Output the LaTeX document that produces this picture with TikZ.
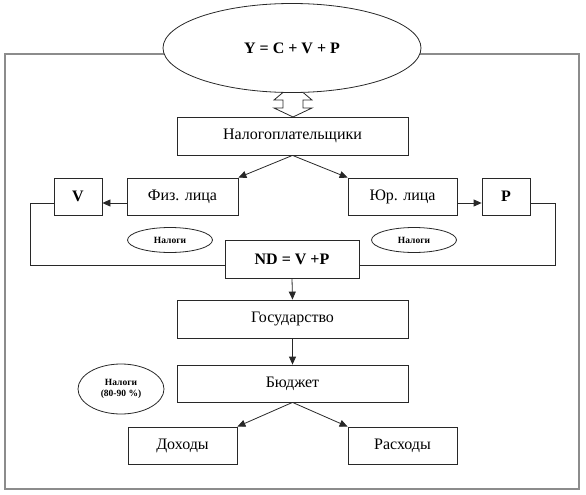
\documentclass[tikz,border=0pt]{standalone}
\usepackage{fontspec}
\setmainfont{Liberation Serif}
\usetikzlibrary{shapes.geometric,arrows.meta}
\definecolor{framegray}{RGB}{140,140,140}
\definecolor{linec}{RGB}{40,40,40}
\begin{document}
\begin{tikzpicture}[x=1pt,y=-1pt,
  box/.style={draw=linec,line width=0.8pt,rectangle,inner sep=0pt,fill=white,
    font=\fontsize{16}{19}\selectfont},
  bbox/.style={box,font=\fontsize{16}{19}\selectfont\bfseries},
  oval/.style={draw=linec,line width=0.8pt,ellipse,inner sep=0pt,fill=white},
  tiny/.style={font=\fontsize{9.5}{11}\selectfont\bfseries,align=center},
  arr/.style={draw=linec,line width=0.8pt,-{Triangle[length=8pt,width=7pt]}},
  conn/.style={draw=linec,line width=0.8pt}]
\useasboundingbox (0,0) rectangle (586,495);
% outer frame
\draw[framegray,line width=1.3pt] (5,54) rectangle (579,489);
% double hollow arrow
\draw[linec,line width=0.8pt,fill=white]
  (293,84) -- (312,100) -- (303,100) -- (303,108) -- (312,108) -- (293,117)
  -- (274,108) -- (283,108) -- (283,100) -- (274,100) -- cycle;
% top ellipse
\node[oval,minimum width=258pt,minimum height=89pt,
  font=\fontsize{16}{19}\selectfont\bfseries] (top) at (292,48) {Y = C + V + P};
% boxes
\node[box,minimum width=231pt,minimum height=38pt] (nal) at (292.5,136) {Налогоплательщики};
\node[box,minimum width=111pt,minimum height=37pt] (fiz) at (182.5,196.5) {Физ. лица};
\node[bbox,minimum width=48pt,minimum height=37pt] (V) at (78,196.5) {V};
\node[box,minimum width=109pt,minimum height=37pt] (yur) at (402.5,196.5) {Юр. лица};
\node[bbox,minimum width=48pt,minimum height=37pt] (P) at (506,196.5) {P};
\node[bbox,minimum width=134pt,minimum height=38pt] (nd) at (292,259) {ND = V +P};
\node[box,minimum width=231pt,minimum height=38pt] (gos) at (292.5,319) {Государство};
\node[box,minimum width=231pt,minimum height=37pt] (bud) at (292.5,383.5) {Бюджет};
\node[box,minimum width=109pt,minimum height=37pt] (doh) at (182.5,445.5) {Доходы};
\node[box,minimum width=109pt,minimum height=37pt] (ras) at (402.5,445.5) {Расходы};
% small ellipses
\node[oval,tiny,minimum width=85pt,minimum height=25pt] (n1) at (170,240) {Налоги};
\node[oval,tiny,minimum width=85pt,minimum height=25pt] (n2) at (414,240) {Налоги};
\node[oval,tiny,minimum width=86pt,minimum height=50pt] (n3) at (121,389) {Налоги\\(80-90 \%)};
% coordinates for loops
\coordinate (lv) at (30,203);
\coordinate (lb) at (30,265);
\coordinate (rv) at (555,203);
\coordinate (rb) at (555,265);
% connectors
\draw[arr] (nal.south) -- (fiz.north east);
\draw[arr] (nal.south) -- (yur.north west);
\draw[arr] (fiz.west |- 0,203) -- (V.east |- 0,203);
\draw[arr] (yur.east |- 0,203) -- (P.west |- 0,203);
\draw[conn] (V.west |- lv) -- (lv) -- (lb) -- (nd.west |- lb);
\draw[conn] (P.east |- rv) -- (rv) -- (rb) -- (nd.east |- rb);
\draw[arr] (nd.south) -- (gos.north);
\draw[arr] (gos.south) -- (bud.north);
\draw[arr] (bud.south) -- (doh.north east);
\draw[arr] (bud.south) -- (ras.north west);
\end{tikzpicture}
\end{document}
